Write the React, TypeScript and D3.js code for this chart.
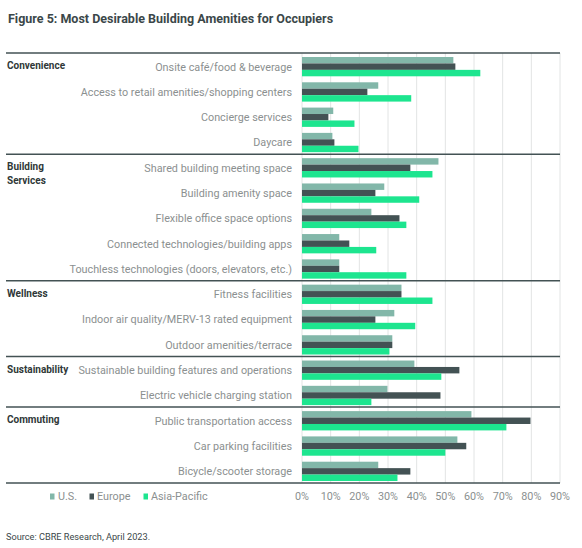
import * as d3 from "d3";

const TITLE = "Figure 5: Most Desirable Building Amenities for Occupiers";
const SOURCE = "Source: CBRE Research, April 2023.";

const SERIES = ["U.S.", "Europe", "Asia-Pacific"];
const COLORS = ["#82b7a9", "#435254", "#1de58f"];

const GROUPS = ["Convenience", "Building Services", "Wellness", "Sustainability", "Commuting"];
const GROUP_SIZES = [4, 5, 3, 2, 3];

const AMENITIES = [
  "Onsite café/food & beverage",
  "Access to retail amenities/shopping centers",
  "Concierge services",
  "Daycare",
  "Shared building meeting space",
  "Building amenity space",
  "Flexible office space options",
  "Connected technologies/building apps",
  "Touchless technologies (doors, elevators, etc.)",
  "Fitness facilities",
  "Indoor air quality/MERV-13 rated equipment",
  "Outdoor amenities/terrace",
  "Sustainable building features and operations",
  "Electric vehicle charging station",
  "Public transportation access",
  "Car parking facilities",
  "Bicycle/scooter storage",
];

const US = [52.8, 26.6, 10.9, 10.6, 47.6, 28.7, 24.2, 13, 13, 34.7, 32.2, 31.5, 39.2, 29.8, 59.1, 54.2, 26.6];
const EUROPE = [53.5, 22.8, 9.2, 11.3, 37.8, 25.6, 34, 16.5, 13, 34.7, 25.6, 31.5, 54.9, 48.3, 79.7, 57.3, 37.8];
const APAC = [62.2, 38.1, 18.3, 19.7, 45.5, 40.9, 36.4, 25.9, 36.4, 45.5, 39.5, 30.5, 48.6, 24.2, 71.3, 50, 33.3];

const X_TICKS = [0, 10, 20, 30, 40, 50, 60, 70, 80, 90];

const W = 582;
const H = 548;
const TOP = 53;
const BOTTOM = 483;
const X0 = 302;
const X1 = 560;
const LINE_LEFT = 6;
const FONT = "Roboto, 'Liberation Sans', sans-serif";

export default function App() {
  const values = [US, EUROPE, APAC];
  const x = d3.scaleLinear().domain([0, 90]).range([X0, X1]);
  const y = d3.scaleBand<number>().domain(d3.range(AMENITIES.length)).range([TOP, BOTTOM]);
  const inner = d3
    .scaleBand<number>()
    .domain([0, 1, 2])
    .range([4, y.bandwidth() - 2]);

  // group boundaries (row index where each group starts)
  const starts = GROUP_SIZES.map((_, i) => d3.sum(GROUP_SIZES.slice(0, i)));

  return (
    <svg width={W} height={H} style={{ position: "absolute", left: 0, top: 0 }} fontFamily={FONT}>
      <rect width={W} height={H} fill="#fff" />
      <text x={8} y={23} fontSize={12.5} fontWeight={700} fill="#3b4749">
        {TITLE}
      </text>

      {/* gridlines */}
      {X_TICKS.map((t) => (
        <line key={t} x1={x(t)} x2={x(t)} y1={TOP} y2={BOTTOM} stroke="#e2e4e4" strokeWidth={1} />
      ))}

      {/* bars */}
      {AMENITIES.map((name, i) => (
        <g key={name} transform={`translate(0,${y(i)})`}>
          {values.map((vals, s) => (
            <rect
              key={s}
              x={x(0)}
              y={inner(s)}
              width={x(vals[i]) - x(0)}
              height={inner.bandwidth()}
              fill={COLORS[s]}
            />
          ))}
          <text
            x={292}
            y={y.bandwidth() / 2 + 2}
            textAnchor="end"
            dominantBaseline="middle"
            fontSize={10.8}
            fill="#8b9090"
          >
            {name}
          </text>
        </g>
      ))}

      {/* group separators + labels */}
      {starts.map((s, gi) => {
        const yy = y(s) as number;
        const words = GROUPS[gi] === "Building Services" ? ["Building", "Services"] : [GROUPS[gi]];
        return (
          <g key={GROUPS[gi]}>
            <line x1={LINE_LEFT} x2={X1} y1={yy} y2={yy} stroke="#435254" strokeWidth={1.5} />
            {words.map((w, k) => (
              <text
                key={w}
                x={7}
                y={yy + y.bandwidth() / 2 + 1 + k * 13.5}
                dominantBaseline="middle"
                fontSize={10}
                fontWeight={700}
                fill="#2f3838"
              >
                {w}
              </text>
            ))}
          </g>
        );
      })}
      <line x1={LINE_LEFT} x2={X1} y1={BOTTOM} y2={BOTTOM} stroke="#435254" strokeWidth={1.5} />

      {/* x axis labels */}
      {X_TICKS.map((t) => (
        <text
          key={t}
          x={x(t)}
          y={497}
          textAnchor="middle"
          dominantBaseline="middle"
          fontSize={10.8}
          fill="#8b9090"
        >
          {`${t}%`}
        </text>
      ))}

      {/* legend */}
      {[
        { sq: 50, tx: 58 },
        { sq: 89.5, tx: 97 },
        { sq: 143.5, tx: 151 },
      ].map((p, s) => (
        <g key={SERIES[s]}>
          <rect x={p.sq} y={493.5} width={4.5} height={6} fill={COLORS[s]} />
          <text x={p.tx} y={497} dominantBaseline="middle" fontSize={10.8} fill="#8b9090">
            {SERIES[s]}
          </text>
        </g>
      ))}

      <text x={6} y={538} dominantBaseline="middle" fontSize={9.2} fill="#3b4749">
        {SOURCE}
      </text>
    </svg>
  );
}
